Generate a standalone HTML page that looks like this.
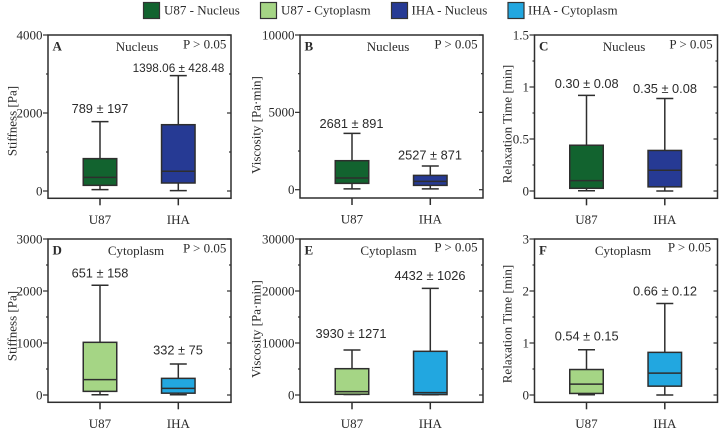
<!DOCTYPE html>
<html lang="en">
<head>
<meta charset="utf-8">
<title>Stiffness, viscosity and relaxation time box plots</title>
<style>
html,body{margin:0;padding:0;background:#fff;width:720px;height:430px;overflow:hidden}
svg{display:block}
.serif{font-family:"Liberation Serif",serif;fill:#2a2a2a}
.sans{font-family:"Liberation Sans",sans-serif;fill:#2a2a2a}
</style>
</head>
<body>
<svg id="chart" width="720" height="430" viewBox="0 0 720 430" xmlns="http://www.w3.org/2000/svg">
  <rect width="720" height="430" fill="#fff"/>
  <g>
    <g><rect x="143.5" y="2.5" width="16" height="16" fill="#12632f" stroke="#333" stroke-width="1.2"/><text class="serif" x="164" y="14.5" font-size="13">U87 - Nucleus</text></g>
    <g><rect x="260.5" y="2.5" width="16" height="16" fill="#a5d585" stroke="#333" stroke-width="1.2"/><text class="serif" x="281" y="14.5" font-size="13">U87 - Cytoplasm</text></g>
    <g><rect x="391.5" y="2.5" width="16" height="16" fill="#263a94" stroke="#333" stroke-width="1.2"/><text class="serif" x="411.500" y="14.5" font-size="13">IHA - Nucleus</text></g>
    <g><rect x="508" y="2.5" width="16" height="16" fill="#22a7e0" stroke="#333" stroke-width="1.2"/><text class="serif" x="528" y="14.5" font-size="13">IHA - Cytoplasm</text></g>
  </g>
</svg>
<script>
// Categories shared by all panels
const categories = ['U87', 'IHA'];

// Box statistics per panel: [low whisker, Q1, median, Q3, high whisker]
const stiffnessNucleusU87 = [35, 145, 350, 830, 1778];
const stiffnessNucleusIHA = [10, 205, 505, 1700, 2957];
const viscosityNucleusU87 = [50, 410, 755, 1875, 3640];
const viscosityNucleusIHA = [50, 280, 540, 925, 1530];
const relaxationNucleusU87 = [0.003, 0.026, 0.10, 0.44, 0.92];
const relaxationNucleusIHA = [0, 0.04, 0.20, 0.39, 0.89];
const stiffnessCytoplasmU87 = [5, 70, 295, 1013, 2110];
const stiffnessCytoplasmIHA = [5, 35, 128, 320, 596];
const viscosityCytoplasmU87 = [100, 130, 640, 5060, 8650];
const viscosityCytoplasmIHA = [50, 80, 450, 8400, 20500];
const relaxationCytoplasmU87 = [0.005, 0.03, 0.21, 0.49, 0.87];
const relaxationCytoplasmIHA = [0, 0.17, 0.42, 0.82, 1.76];

// Axis ticks per panel
const ticksA = [0, 2000, 4000];
const ticksB = [0, 5000, 10000];
const ticksC = [0, 0.5, 1, 1.5];
const ticksD = [0, 1000, 2000, 3000];
const ticksE = [0, 10000, 20000, 30000];
const ticksF = [0, 1, 2, 3];

// Printed mean ± SEM labels
const labelsA = ['789 ± 197', '1398.06 ± 428.48'];
const labelsB = ['2681 ± 891', '2527 ± 871'];
const labelsC = ['0.30 ± 0.08', '0.35 ± 0.08'];
const labelsD = ['651 ± 158', '332 ± 75'];
const labelsE = ['3930 ± 1271', '4432 ± 1026'];
const labelsF = ['0.54 ± 0.15', '0.66 ± 0.12'];

const NS = 'http://www.w3.org/2000/svg';
const svg = document.getElementById('chart');
const COLORS = {
  nucleus: ['#12632f', '#263a94'],
  cytoplasm: ['#a5d585', '#22a7e0']
};
const INK = '#2e2e2e';
const STROKE = 1.5;

function make(tag, attrs, parent, text) {
  const el = document.createElementNS(NS, tag);
  for (const k in attrs) el.setAttribute(k, attrs[k]);
  if (text !== undefined) el.textContent = text;
  parent.appendChild(el);
  return el;
}
function line(parent, x1, y1, x2, y2, w) {
  return make('line', {x1: x1, y1: y1, x2: x2, y2: y2, stroke: INK, 'stroke-width': w || STROKE}, parent);
}

const panels = [
  {id:'a', letter:'A', region:'Nucleus', kind:'nucleus', title:'Stiffness [Pa]', left:48, top:35, bottom:198.3, zero:191, ymax:4000, ticks:ticksA, u87:stiffnessNucleusU87, iha:stiffnessNucleusIHA, labels:labelsA,
   labelPos:[[100,113],[178.500,72]], labelFont:[12.8,11.8], titleX:12, titleY:121, regionX:137, regionY:51, pX:204.7, pY:48.5, letterY:50.5},
  {id:'b', letter:'B', region:'Nucleus', kind:'nucleus', title:'Viscosity [Pa·min]', left:300, top:35, bottom:198, zero:189.7, ymax:10000, ticks:ticksB, u87:viscosityNucleusU87, iha:viscosityNucleusIHA, labels:labelsB,
   labelPos:[[351.5,128],[430,159.5]], labelFont:[12.8,12.8], titleX:256, titleY:125, regionX:388, regionY:51, pX:456, pY:48.5, letterY:50.5},
  {id:'c', letter:'C', region:'Nucleus', kind:'nucleus', title:'Relaxation Time [min]', left:534.500, top:35, bottom:198.3, zero:191, ymax:1.5, ticks:ticksC, u87:relaxationNucleusU87, iha:relaxationNucleusIHA, labels:labelsC,
   labelPos:[[586.7,88],[665,93]], labelFont:[12.8,12.8], titleX:507, titleY:124, regionX:624, regionY:51, pX:691, pY:48.5, letterY:50.5},
  {id:'d', letter:'D', region:'Cytoplasm', kind:'cytoplasm', title:'Stiffness [Pa]', left:48, top:239, bottom:402.3, zero:395, ymax:3000, ticks:ticksD, u87:stiffnessCytoplasmU87, iha:stiffnessCytoplasmIHA, labels:labelsD,
   labelPos:[[100,277.5],[178,354.5]], labelFont:[12.8,12.8], titleX:12, titleY:326, regionX:136, regionY:255, pX:204.7, pY:252.5, letterY:254.5},
  {id:'e', letter:'E', region:'Cytoplasm', kind:'cytoplasm', title:'Viscosity [Pa·min]', left:300, top:239, bottom:402.3, zero:395, ymax:30000, ticks:ticksE, u87:viscosityCytoplasmU87, iha:viscosityCytoplasmIHA, labels:labelsE,
   labelPos:[[351,338],[430,280]], labelFont:[12.8,12.8], titleX:256, titleY:329, regionX:388.500, regionY:255, pX:456, pY:251.5, letterY:254.5},
  {id:'f', letter:'F', region:'Cytoplasm', kind:'cytoplasm', title:'Relaxation Time [min]', left:534.500, top:239, bottom:402.3, zero:395, ymax:3, ticks:ticksF, u87:relaxationCytoplasmU87, iha:relaxationCytoplasmIHA, labels:labelsF,
   labelPos:[[586.7,340.5],[665,295.5]], labelFont:[12.8,12.8], titleX:507, titleY:324, regionX:623, regionY:255, pX:689.5, pY:251.5, letterY:254.5}
];

const PLOT_W = 183;
const BOX_W = 33.5;
const CAP_W = 17;
const OFFSETS = [52, 130.3];

panels.forEach(function (p) {
  const g = make('g', {}, svg);
  
  

  const right = p.left + PLOT_W;
  const yScale = function (v) { return p.zero - (v / p.ymax) * (p.zero - p.top); };

  // Y ticks: major at every tick value, minor half-way between
  const yAxis = make('g', {}, g);
  
  
  p.ticks.forEach(function (t, i) {
    const y = yScale(t);
    line(yAxis, p.left - 5, y, p.left, y, 1.2);
    line(yAxis, right - 4, y, right, y, 1.2);
    const lab = make('text', {x: p.left - 5.5, y: y + 4.3, 'text-anchor': 'end', 'font-size': 13, class: 'serif'}, yAxis, String(t));
    
    
    if (i < p.ticks.length - 1) {
      const m = yScale((t + p.ticks[i + 1]) / 2);
      line(yAxis, p.left - 2, m, p.left, m, 1.2);
      line(yAxis, right - 2, m, right, m, 1.2);
    }
  });

  // Axis title
  const title = make('text', {x: p.titleX, y: p.titleY, transform: 'rotate(-90 ' + p.titleX + ' ' + p.titleY + ')', 'text-anchor': 'middle', 'dominant-baseline': 'central', 'font-size': 13, class: 'serif'}, g, p.title);
  
  

  // Boxes
  [p.u87, p.iha].forEach(function (s, i) {
    const cx = p.left + OFFSETS[i];
    const box = make('g', {}, g);
    
    
    const yLow = yScale(s[0]), yQ1 = yScale(s[1]), yMed = yScale(s[2]), yQ3 = yScale(s[3]), yHigh = yScale(s[4]);
    line(box, cx, yHigh, cx, yQ3);
    line(box, cx, yQ1, cx, yLow);
    line(box, cx - CAP_W / 2, yHigh, cx + CAP_W / 2, yHigh);
    line(box, cx - CAP_W / 2, yLow, cx + CAP_W / 2, yLow);
    make('rect', {x: cx - BOX_W / 2, y: yQ3, width: BOX_W, height: yQ1 - yQ3, fill: COLORS[p.kind][i], stroke: INK, 'stroke-width': STROKE}, box);
    line(box, cx - BOX_W / 2, yMed, cx + BOX_W / 2, yMed);

    // X tick and category label
    line(g, cx, p.bottom, cx, p.bottom + 7);
    const xl = make('text', {x: cx, y: p.bottom + 25.7, 'text-anchor': 'middle', 'font-size': 13, class: 'serif'}, g, categories[i]);
    
    

    // Mean ± SEM annotation
    const an = make('text', {x: p.labelPos[i][0], y: p.labelPos[i][1], 'text-anchor': 'middle', 'font-size': p.labelFont[i], class: 'sans'}, g, p.labels[i]);
    
    
  });

  // Frame
  const frame = make('rect', {x: p.left, y: p.top, width: PLOT_W, height: p.bottom - p.top, fill: 'none', stroke: INK, 'stroke-width': STROKE}, g);
  
  

  // Panel annotations
  const letter = make('text', {x: p.left + 4.5, y: p.letterY, 'font-size': 13, 'font-weight': 'bold', class: 'serif'}, g, p.letter);
  
  
  const region = make('text', {x: p.regionX, y: p.regionY, 'text-anchor': 'middle', 'font-size': 13, class: 'serif'}, g, p.region);
  
  
  const pv = make('text', {x: p.pX, y: p.pY, 'text-anchor': 'middle', 'font-size': 13, class: 'serif'}, g, 'P > 0.05');
  
  
});
</script>
</body>
</html>
